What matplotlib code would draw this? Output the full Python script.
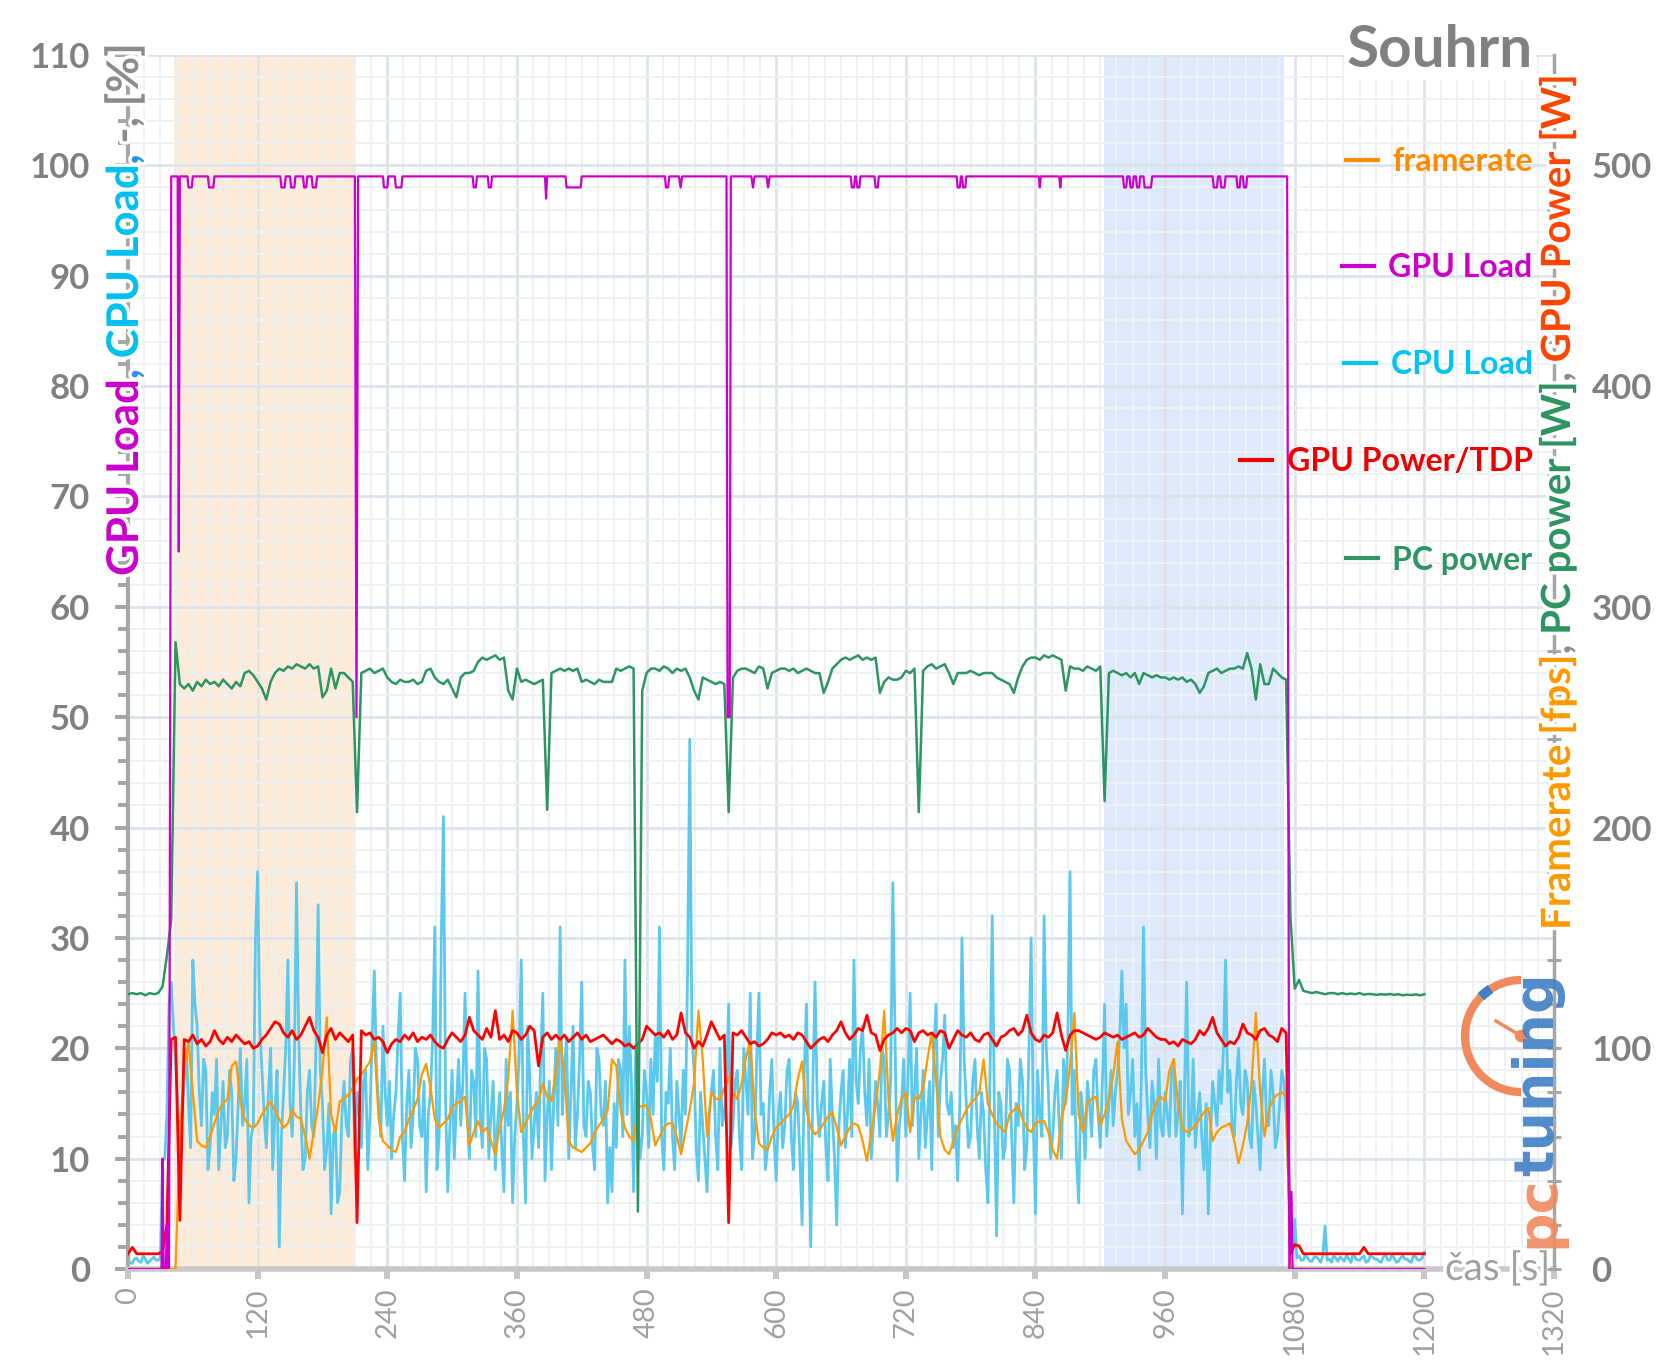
import numpy as np
import matplotlib.pyplot as plt
from matplotlib import patches
from matplotlib.lines import Line2D
from matplotlib.legend import Legend
from matplotlib.font_manager import FontProperties
import matplotlib.patheffects as pe

plt.rcParams['font.family'] = ['Lato', 'DejaVu Sans']

# sample times [s], one reading every 4 s
t = np.arange(0, 1201, 4)

# CPU load [%] at the 4 s sample times
cpu_load = [
    0.8, 0.5, 1.0, 0.6, 0.9, 0.7, 1.1, 0.8, 9.8, 14,
    26, 19, 12, 17, 15, 28, 22, 13, 18, 11,
    14, 9, 17, 12, 16, 10, 20, 15, 6, 13,
    36, 18, 11, 20, 14, 2, 16, 28, 12, 35,
    14, 10, 18, 12, 33, 15, 11, 5, 13, 7,
    17, 12, 20, 16, 11, 18, 14, 27, 15, 22,
    13, 10, 16, 25, 8, 18, 14, 19, 12, 7,
    16, 31, 12, 41, 7, 18, 15, 13, 25, 10,
    17, 27, 11, 19, 14, 9, 16, 7, 13, 6,
    15, 28, 6, 17, 13, 11, 25, 14, 9, 20,
    31, 18, 10, 22, 14, 26, 12, 16, 9, 19,
    13, 6, 7, 11, 18, 28, 22, 7, 14, 12,
    16, 19, 21, 31, 9, 15, 12, 17, 11, 14,
    48, 18, 8, 13, 7, 16, 12, 20, 14, 24,
    13, 18, 9, 17, 25, 12, 25, 15, 11, 19,
    8, 16, 13, 19, 9, 15, 4, 24, 2, 26,
    12, 17, 8, 14, 4, 16, 11, 19, 28, 15,
    22, 13, 10, 17, 12, 19, 14, 35, 8, 15,
    12, 25, 16, 10, 18, 14, 9, 24, 17, 23,
    14, 11, 8, 30, 15, 12, 19, 10, 14, 6,
    32, 3, 15, 11, 18, 6, 13, 17, 11, 30,
    5, 14, 32, 16, 12, 18, 10, 15, 36, 18,
    6, 14, 17, 12, 19, 11, 24, 15, 13, 18,
    27, 24, 16, 12, 9, 31, 14, 17, 10, 13,
    16, 12, 19, 14, 5, 26, 13, 11, 16, 9,
    5, 17, 13, 15, 28, 18, 12, 20, 14, 17,
    11, 15, 9, 19, 13, 16, 12, 18, 14, 2,
    4.5, 1.2, 0.8, 1.0, 0.7, 1.1, 0.6, 3.9, 0.9, 1.2,
    0.7, 0.9, 1.3, 0.6, 1.0, 0.8, 1.2, 0.7, 1.1, 0.9,
    0.6, 1.3, 0.8, 1.0, 0.7, 1.2, 0.9, 0.6, 1.1, 0.8, 1.5,
]

# CPU load [%] read half way between the samples above (t = 2, 6, ... 1198 s)
cpu_load_mid = [
    0.6, 0.9, 0.7, 1.2, 0.5, 0.9, 0.8, 1.0, 10, 24,
    22, 15, 14, 20, 11, 24, 16, 19, 9, 16,
    19, 13, 11, 18, 8, 15, 13, 19, 12, 30,
    22, 14, 16, 9, 18, 12, 20, 15, 19, 21,
    9, 16, 13, 20, 18, 9, 15, 12, 6, 14,
    13, 19, 10, 14, 17, 9, 21, 18, 12, 16,
    17, 14, 21, 12, 15, 11, 20, 13, 17, 14,
    21, 9, 30, 15, 13, 10, 19, 17, 14, 18,
    12, 14, 20, 10, 17, 13, 11, 19, 16, 12,
    19, 12, 22, 10, 16, 19, 8, 17, 15, 13,
    14, 21, 16, 11, 19, 13, 17, 11, 20, 14,
    17, 11, 15, 19, 12, 14, 17, 20, 10, 18,
    11, 14, 17, 12, 16, 20, 9, 14, 18, 27,
    21, 11, 16, 10, 14, 18, 9, 13, 17, 11,
    17, 12, 20, 14, 10, 19, 14, 9, 16, 12,
    14, 11, 18, 12, 16, 10, 18, 12, 17, 15,
    15, 11, 19, 10, 13, 18, 14, 12, 17, 20,
    16, 19, 13, 15, 20, 12, 17, 21, 13, 19,
    17, 13, 20, 14, 11, 17, 20, 12, 19, 15,
    16, 13, 15, 19, 11, 17, 13, 16, 9, 18,
    14, 16, 10, 19, 12, 15, 19, 9, 20, 13,
    18, 12, 20, 10, 16, 13, 19, 21, 14, 10,
    16, 10, 15, 18, 14, 17, 12, 18, 16, 21,
    20, 14, 19, 15, 17, 18, 11, 15, 19, 12,
    14, 18, 12, 17, 16, 12, 19, 14, 12, 15,
    12, 15, 18, 20, 16, 13, 17, 15, 18, 12,
    17, 12, 16, 13, 18, 11, 15, 17, 9, 1.5,
    1.0, 0.8, 1.3, 0.7, 1.1, 0.9, 1.2, 0.8, 0.6, 1.0,
    1.1, 0.7, 0.9, 1.4, 0.8, 1.0, 0.6, 1.2, 0.9, 0.7,
    1.1, 0.8, 1.3, 0.6, 1.0, 0.9, 0.7, 1.2, 0.8, 1.0,
]

# GPU power [W]
gpu_power = [
    6.9, 9.8, 6.9, 6.9, 6.9, 6.9, 6.9, 6.9, 8.0, 20,
    104, 105, 22, 104, 103, 106, 102, 104, 101, 103,
    108, 104, 102, 105, 103, 106, 104, 102, 103, 100,
    101, 104, 106, 109, 112, 111, 107, 105, 108, 104,
    106, 110, 114, 108, 105, 98, 106, 109, 104, 107,
    105, 103, 106, 21, 108, 106, 107, 104, 105, 103,
    98, 102, 104, 103, 106, 104, 107, 103, 105, 104,
    106, 103, 101, 100, 104, 107, 105, 103, 106, 114,
    108, 106, 104, 109, 105, 117, 104, 106, 103, 108,
    107, 104, 106, 110, 108, 92, 105, 107, 104, 106,
    104, 106, 103, 105, 107, 104, 106, 103, 104, 105,
    106, 104, 102, 104, 103, 101, 102, 100, 102, 104,
    110, 108, 106, 107, 105, 108, 104, 106, 116, 107,
    105, 100, 103, 101, 106, 112, 108, 104, 106, 21,
    107, 106, 108, 105, 102, 103, 101, 102, 104, 107,
    106, 107, 105, 106, 104, 107, 106, 103, 100, 102,
    104, 105, 103, 106, 108, 112, 107, 104, 106, 109,
    108, 115, 107, 106, 99, 104, 106, 107, 109, 107,
    109, 108, 103, 107, 108, 106, 107, 105, 108, 107,
    100, 104, 108, 106, 105, 107, 104, 103, 106, 107,
    104, 101, 105, 106, 108, 109, 106, 108, 115, 107,
    104, 103, 106, 105, 107, 116, 106, 99, 106, 108,
    108, 107, 106, 105, 104, 105, 107, 106, 105, 106,
    104, 105, 106, 107, 105, 106, 109, 107, 105, 104,
    104, 102, 103, 101, 104, 103, 102, 104, 108, 106,
    109, 114, 107, 104, 101, 103, 102, 105, 111, 107,
    106, 104, 108, 109, 106, 105, 103, 109, 107, 7,
    11, 10.5, 6.9, 6.9, 6.9, 6.9, 6.9, 6.9, 6.9, 6.9,
    6.9, 6.9, 6.9, 6.9, 6.9, 6.9, 9.8, 6.9, 6.9, 6.9,
    6.9, 6.9, 6.9, 6.9, 6.9, 6.9, 6.9, 6.9, 6.9, 6.9, 6.9,
]

# PC power [W]
pc_power = [
    124.5, 125, 124.5, 125, 124, 125, 124.5, 125, 128, 142,
    158, 284, 265, 263, 265, 262, 266, 264, 267, 265,
    266, 264, 267, 265, 263, 266, 264, 270, 271, 269,
    266, 263, 258, 266, 270, 272, 271, 273, 272, 274,
    273, 272, 274, 272, 273, 259, 262, 272, 263, 270,
    270, 268, 266, 207, 270, 271, 272, 270, 271, 272,
    268, 266, 265, 267, 266, 266, 267, 265, 266, 271,
    272, 268, 266, 265, 267, 263, 259, 268, 270, 270,
    271, 275, 277, 276, 277, 278, 276, 277, 262, 258,
    272, 266, 267, 266, 265, 266, 267, 208, 270, 271,
    272, 271, 272, 271, 272, 266, 267, 266, 265, 267,
    266, 266, 266, 272, 271, 272, 273, 272, 26, 262,
    270, 272, 272, 271, 273, 272, 270, 272, 271, 272,
    268, 262, 258, 268, 267, 266, 265, 266, 265, 207,
    268, 271, 272, 272, 271, 270, 273, 272, 263, 270,
    271, 272, 272, 271, 272, 270, 271, 272, 271, 270,
    270, 261, 266, 272, 274, 276, 277, 276, 277, 278,
    276, 277, 276, 277, 261, 266, 268, 267, 267, 268,
    271, 270, 272, 207, 271, 273, 274, 272, 273, 274,
    270, 265, 270, 270, 270, 271, 270, 269, 270, 270,
    270, 268, 267, 266, 265, 261, 268, 273, 276, 277,
    277, 276, 278, 277, 278, 277, 276, 262, 273, 272,
    272, 271, 273, 272, 271, 273, 212, 270, 271, 270,
    269, 270, 268, 270, 265, 270, 269, 268, 269, 268,
    268, 267, 268, 267, 268, 266, 267, 265, 261, 264,
    270, 271, 272, 270, 271, 272, 272, 273, 272, 279,
    272, 258, 274, 265, 265, 272, 270, 268, 267, 160,
    127, 131, 126, 125.5, 125, 125.5, 125, 124.5, 125, 125,
    124.5, 125, 124.5, 124.8, 124.5, 125, 124.3, 124.6, 124.5, 124.2,
    124.5, 124.3, 124.6, 124.2, 124.5, 124, 124.3, 124.1, 124.4, 124, 124.5,
]

# framerate [fps]
framerate = [
    0, 0, 0, 0, 0, 0, 0, 0, 0, 0,
    0, 0, 60, 90, 103, 80, 58, 56, 55, 60,
    66, 72, 75, 77, 92, 94, 76, 68, 65, 64,
    66, 70, 73, 76, 72, 68, 64, 66, 72, 69,
    68, 60, 50, 62, 74, 90, 114, 70, 62, 76,
    77, 79, 82, 86, 88, 91, 94, 103, 68, 58,
    56, 54, 53, 60, 62, 68, 72, 77, 88, 93,
    82, 68, 64, 66, 68, 73, 75, 76, 78, 56,
    62, 67, 62, 64, 58, 52, 64, 72, 87, 117,
    80, 62, 66, 70, 74, 76, 84, 78, 76, 89,
    105, 88, 58, 55, 54, 53, 55, 57, 62, 65,
    68, 72, 95, 92, 72, 64, 60, 58, 73, 74,
    74, 68, 56, 60, 64, 66, 66, 60, 52, 62,
    72, 84, 117, 95, 60, 80, 77, 77, 82, 87,
    80, 77, 84, 96, 103, 72, 57, 55, 54, 60,
    64, 66, 68, 70, 74, 86, 94, 72, 64, 61,
    63, 66, 69, 71, 64, 56, 60, 64, 66, 65,
    58, 49, 62, 74, 90, 117, 77, 58, 70, 77,
    80, 62, 78, 77, 82, 95, 107, 85, 60, 54,
    52, 58, 64, 68, 72, 75, 77, 80, 95, 75,
    70, 66, 64, 62, 70, 72, 74, 68, 64, 62,
    66, 67, 67, 62, 54, 50, 68, 76, 92, 116,
    70, 62, 75, 77, 78, 65, 70, 77, 88, 103,
    68, 58, 55, 52, 54, 58, 62, 70, 76, 78,
    76, 90, 95, 74, 64, 62, 63, 65, 68, 71,
    73, 58, 62, 64, 65, 66, 58, 48, 56, 66,
    84, 116, 80, 60, 72, 77, 79, 80, 78, 0,
    0, 0, 0, 0, 0, 0, 0, 0, 0, 0,
    0, 0, 0, 0, 0, 0, 0, 0, 0, 0,
    0, 0, 0, 0, 0, 0, 0, 0, 0, 0, 0,
]

# GPU load [%]: start / end points and the short dips (start s, end s, depth %)
gpu_start_t = [0, 31, 32, 33, 35, 36, 37, 38, 40]
gpu_start_load = [0, 0, 10, 0, 0, 4, 0, 0, 99]
gpu_end_t = [1073, 1075, 1077, 1078, 1200]
gpu_end_load = [99, 0, 7, 0, 0]
gpu_dips = [
    (46, 48, 65), (55, 60, 98), (74, 80, 98), (141, 146, 98), (150, 155, 98),
    (162, 166, 98), (170, 175, 98), (210, 213, 50), (236, 241, 98), (247, 254, 98),
    (319, 323, 98), (333, 337, 98), (386, 388, 97), (405, 420, 98), (497, 501, 98),
    (510, 513, 98), (554, 558, 50), (577, 580, 98), (591, 594, 98), (669, 673, 98),
    (674, 678, 98), (691, 695, 98), (767, 771, 98), (772, 776, 98), (843, 845, 98),
    (862, 864, 98), (921, 925, 98), (927, 931, 98), (933, 937, 98), (940, 948, 98),
    (1004, 1009, 98), (1011, 1016, 98), (1026, 1030, 98), (1032, 1036, 98),
]

# highlighted test sections [s]
span_orange = (43, 210)
span_blue = (903, 1070)

for s in (cpu_load, gpu_power, pc_power, framerate):
    assert len(s) == len(t), len(s)
assert len(cpu_load_mid) == len(t) - 1

# CPU readings every 2 s: samples and mid points interleaved
cpu_t = np.arange(0, 1201, 2)
cpu_all = np.empty(len(cpu_t))
cpu_all[0::2] = cpu_load
cpu_all[1::2] = cpu_load_mid

gpu_t = list(gpu_start_t)
gpu_load = list(gpu_start_load)
for a, b, d in gpu_dips:
    if b - a <= 3:
        gpu_t += [a, (a + b) / 2, b]
        gpu_load += [99, d, 99]
    else:
        gpu_t += [a, a + 1, b - 1, b]
        gpu_load += [99, d, d, 99]
gpu_t += gpu_end_t
gpu_load += gpu_end_load

GPU_LOAD_C = '#cc00cc'
CPU_C = '#5bc8ee'
CPU_TXT = '#00c4f5'
GPU_PWR_C = '#ff0000'
PC_C = '#2e9461'
FPS_C = '#ff9900'
GREY = '#808080'
AXIS_GREY = '#a6a6a6'

W, H = 1658, 1361
fig = plt.figure(figsize=(W / 100, H / 100), dpi=100)
ax = fig.add_axes([128 / W, 1 - 1269 / H, (1554 - 128) / W, (1269 - 55) / H])
ax2 = ax.twinx()

ax.axvspan(*span_orange, color='#fdebd9', lw=0, zorder=0.2)
ax.axvspan(*span_blue, color='#dceafb', lw=0, zorder=0.2)

ax.plot(cpu_t, cpu_all, color=CPU_C, lw=2.0, zorder=2)
ax2.plot(t, framerate, color=FPS_C, lw=1.6, zorder=2)
ax2.plot(t, gpu_power, color=GPU_PWR_C, lw=2.0, zorder=3)
ax2.plot(t, pc_power, color=PC_C, lw=1.8, zorder=4)
ax2.plot(gpu_t, gpu_load, color=GPU_LOAD_C, lw=1.6, zorder=5, transform=ax.transData)

ax.set_xlim(0, 1320)
ax.set_ylim(0, 110)
ax2.set_ylim(0, 550)

xt = np.arange(0, 1321, 120)
ax.set_xticks(xt, labels=[str(v) for v in xt], rotation=90, fontsize=21, color='#a0a0a0')
ax.set_xticks(np.arange(0, 1321, 15), minor=True)
yt = np.arange(0, 111, 10)
ax.set_yticks(yt, labels=[str(v) for v in yt], fontsize=25, fontweight='bold', color=GREY)
ax.set_yticks(np.arange(0, 111, 2), minor=True)
yt2 = np.arange(0, 501, 100)
ax2.set_yticks(yt2, labels=[str(v) for v in yt2], fontsize=25, fontweight='bold', color=GREY)
ax2.set_yticks(np.arange(0, 551, 20), minor=True)

ax.set_axisbelow(True)
ax.grid(which='major', color='#dde3ea', lw=2)
ax.grid(which='minor', color='#eef1f5', lw=1.3)

ax.tick_params(axis='y', which='major', direction='out', length=9.5, width=2.9, color=AXIS_GREY, pad=18)
ax.tick_params(axis='y', which='minor', direction='out', length=7, width=2.9, color=AXIS_GREY)
ax.tick_params(axis='x', which='major', direction='out', length=7, width=4.3, color='#c8c8c8', pad=6)
ax.tick_params(axis='x', which='minor', length=0)
ax2.tick_params(axis='y', which='major', direction='inout', length=10, width=2.2, color=AXIS_GREY, pad=22)
ax2.tick_params(axis='y', which='minor', direction='inout', length=10, width=2.2, color=AXIS_GREY)

for sp in ('top', 'right'):
    ax.spines[sp].set_visible(False)
ax.spines['left'].set_color(AXIS_GREY)
ax.spines['left'].set_linewidth(3)
ax.spines['bottom'].set_color('#c8c8c8')
ax.spines['bottom'].set_linewidth(4)
for sp in ('top', 'left', 'bottom'):
    ax2.spines[sp].set_visible(False)
ax2.spines['right'].set_color(AXIS_GREY)
ax2.spines['right'].set_linewidth(2.5)

# legend, one right-aligned row per series
legend_rows = [
    ('framerate', '#ff8c00', 0.912),
    ('GPU Load', GPU_LOAD_C, 0.825),
    ('CPU Load', CPU_TXT, 0.745),
    ('GPU Power/TDP', '#ee0000', 0.665),
    ('PC power', PC_C, 0.584),
]
leg_font = FontProperties(family='Lato', weight='bold', size=23)
for name, col, ypos in legend_rows:
    leg = Legend(ax2, [Line2D([], [], color=col, lw=3)], [name], loc='center right',
                 bbox_to_anchor=(0.985, ypos), frameon=False, handlelength=1.0,
                 handletextpad=0.45, borderpad=0, borderaxespad=0, prop=leg_font,
                 labelcolor=col)
    ax2.add_artist(leg)

white_edge = [pe.withStroke(linewidth=5, foreground='white')]


def vertical_label(x, y, parts, prop, effects=None, alpha=1.0):
    """Several coloured pieces of text, rotated 90 deg, sharing one baseline."""
    r = fig.canvas.get_renderer()
    base = r.get_text_width_height_descent('x', prop, ismath=False)[0]
    done = ''
    for s, col in parts:
        off = r.get_text_width_height_descent(done + 'x', prop, ismath=False)[0] - base
        fig.text(x, y + off / H, s, color=col, rotation=90, rotation_mode='anchor',
                 ha='left', va='baseline', fontproperties=prop, path_effects=effects,
                 alpha=alpha)
        done += s


vertical_label(138 / W, 1 - 576 / H,
               [('GPU Load', GPU_LOAD_C), (', ', '#2f8ee6'), ('CPU Load', '#00c0f0'),
                (', ', '#2f8ee6'), ('-, ', '#8c8c8c'), ('[%]', '#8c8c8c')],
               FontProperties(family='Lato', weight='bold', size=31.5), white_edge)
vertical_label(1570 / W, 1 - 930 / H,
               [('Framerate [fps]', '#ff9900'), (', ', '#8c8c8c'), ('PC power [W]', PC_C),
                (', ', '#8c8c8c'), ('GPU Power [W]', '#ff4500')],
               FontProperties(family='Lato', weight='bold', size=29), white_edge)

# pctuning logo
vertical_label(1553 / W, 1 - 1248 / H, [('pc', '#f08a5d'), ('tuning', '#3f7fc4')],
               FontProperties(family='DejaVu Sans', weight='bold', size=40), alpha=0.9)
cx, cy, rad = 1521, 1036, 56
fig.add_artist(patches.Arc((cx / W, 1 - cy / H), 2 * rad / W, 2 * rad / H, theta1=90, theta2=270,
                           transform=fig.transFigure, color='#f08a5d', lw=6))
fig.add_artist(patches.Arc((cx / W, 1 - cy / H), 2 * rad / W, 2 * rad / H, theta1=118, theta2=130,
                           transform=fig.transFigure, color='#3f7fc4', lw=7))
fig.add_artist(Line2D([cx / W, 1496 / W], [1 - cy / H, 1 - 1021 / H], color='#f08a5d', lw=2.5))
fig.add_artist(patches.Ellipse((cx / W, 1 - cy / H), 11 / W, 11 / H, transform=fig.transFigure,
                               color='#f08a5d'))

fig.text(1533 / W, 1 - 67 / H, 'Souhrn', ha='right', va='baseline', fontsize=42,
         fontweight='bold', color=GREY, bbox=dict(fc='white', ec='none', pad=2))
ax.text(1219, 0, 'čas [s]', ha='left', va='center', fontsize=28, color='#a0a0a0',
        clip_on=False, path_effects=white_edge, zorder=6)

fig.savefig('out.png', dpi=100)
